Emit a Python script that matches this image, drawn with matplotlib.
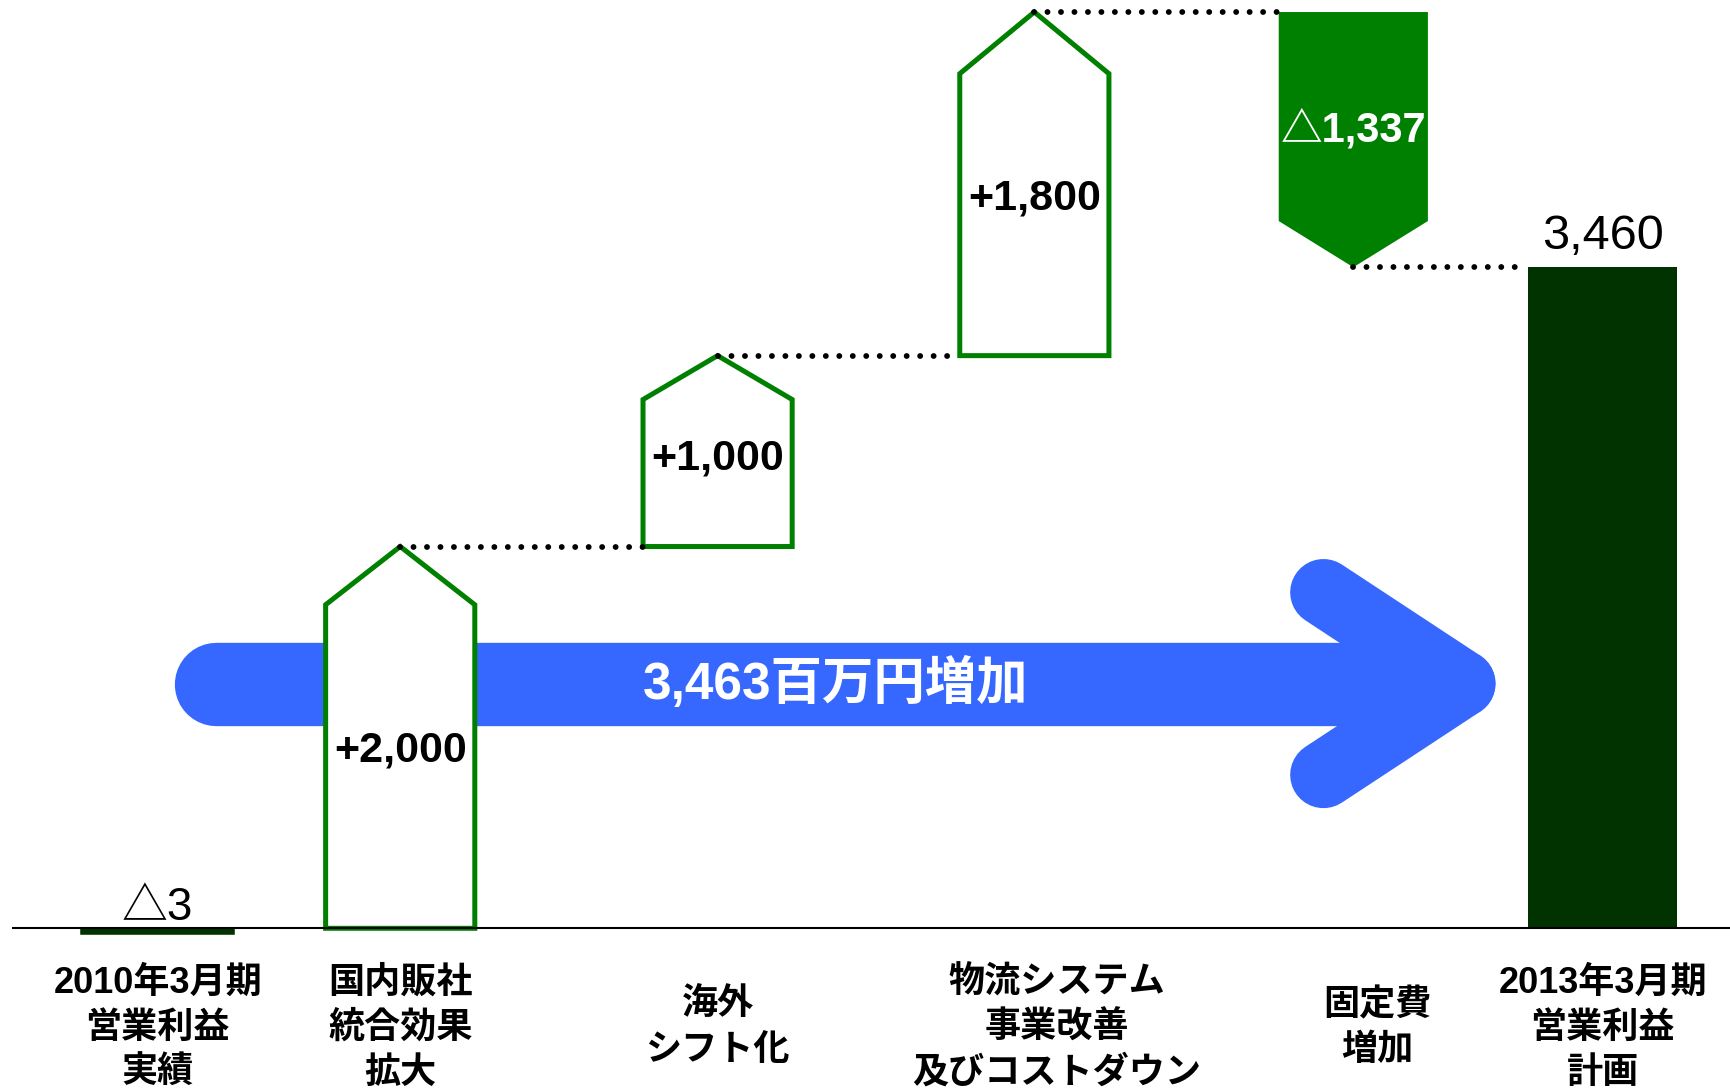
import numpy as np
import matplotlib
matplotlib.use("Agg")
import matplotlib.pyplot as plt
from matplotlib.patches import Polygon
from matplotlib import transforms

plt.rcParams['font.family'] = ['Liberation Sans', 'Noto Sans CJK JP']

# ---- data (百万円) ----
categories = ["2010年3月期\n営業利益\n実績", "国内販社\n統合効果\n拡大", "海外\nシフト化",
              "物流システム\n事業改善\n及びコストダウン", "固定費\n増加", "2013年3月期\n営業利益\n計画"]
values = [-3, 2000, 1000, 1800, -1337, 3460]
value_labels = ["△3", "+2,000", "+1,000", "+1,800", "△1,337", "3,460"]
arrow_text = "3,463百万円増加"

# ---- layout ----
xpos = [0.497, 1.261, 2.261, 3.259, 4.264, 5.050]
cat_dx = [0.0, 0.0, 0.0, 0.07, 0.075, 0.0]
tips = [0, 305, 230, 323, 242, 0]
label_y = [40, 926, 2459, 3818, 4177, 3558]
w = 0.47

green = "#008000"
dark = "#003300"
blue = "#3668FF"

fig = plt.figure(figsize=(17.31, 10.90), dpi=100)
ax = fig.add_axes([0, 0, 1, 1])
ax.set_xlim(0, 5.454)
ax.set_ylim(-850, 4860)
ax.axis("off")

# blue arrow behind the bars
yc = 1279
ax.plot([0.68, 4.55], [yc, yc], color=blue, lw=60, solid_capstyle="round", zorder=1)
for dy in (478, -478):
    ax.plot([4.170, 4.607], [yc + dy, yc], color=blue, lw=48, solid_capstyle="round", zorder=1)
ax.text(2.633, yc, arrow_text, color="white", fontsize=37, fontweight="bold",
        ha="center", va="center", zorder=5)

# waterfall
cum = np.cumsum(values[:-1])
starts = np.concatenate([[0], cum[:-1]])

# first bar: actual value, drawn with a visible stroke just below the axis
b = ax.bar(xpos[0], values[0], width=w, color=dark, edgecolor=dark, lw=4, zorder=2)
for p in b:
    p.set_transform(transforms.offset_copy(ax.transData, fig=fig, y=-2.5, units="points"))

for i in range(1, 5):
    x0, x1 = xpos[i] - w / 2, xpos[i] + w / 2
    s, e = starts[i], cum[i]
    t = tips[i]
    if values[i] > 0:
        pts = [(x0, s), (x1, s), (x1, e - t), (xpos[i], e), (x0, e - t)]
        poly = Polygon(pts, closed=True, facecolor="white", edgecolor=green, lw=3.6,
                       joinstyle="miter", zorder=2)
    else:
        pts = [(x0, s), (x1, s), (x1, e + t), (xpos[i], e), (x0, e + t)]
        poly = Polygon(pts, closed=True, facecolor=green, edgecolor="none", zorder=2)
    ax.add_patch(poly)

ax.bar(xpos[5], values[5], width=w, color=dark, zorder=2)

# dotted connectors
for i in range(1, 5):
    ax.plot([xpos[i], xpos[i + 1] - w / 2], [cum[i], cum[i]], color="black", lw=4.2,
            linestyle=(0, (0.01, 2.3)), dash_capstyle="round", zorder=3)

# axis line
ax.axhline(0, xmin=12 / 1568, xmax=1, color="black", lw=1.5, zorder=4)

# value labels
ax.text(xpos[0], label_y[0], value_labels[0], fontsize=33, ha="center", va="baseline", zorder=5)
for i in (1, 2, 3):
    ax.text(xpos[i], label_y[i], value_labels[i], fontsize=31, fontweight="bold",
            ha="center", va="center", zorder=5)
ax.text(xpos[4], label_y[4], value_labels[4], fontsize=30, fontweight="bold", color="white",
        ha="center", va="center", zorder=5)
ax.text(xpos[5], label_y[5], value_labels[5], fontsize=35, ha="center", va="baseline", zorder=5)

# category labels
for i, c in enumerate(categories):
    ax.text(xpos[i] + cat_dx[i], -526, c, fontsize=26, fontweight="bold", ha="center",
            va="center", linespacing=1.38, zorder=5)

fig.savefig("out.png", dpi=100)
